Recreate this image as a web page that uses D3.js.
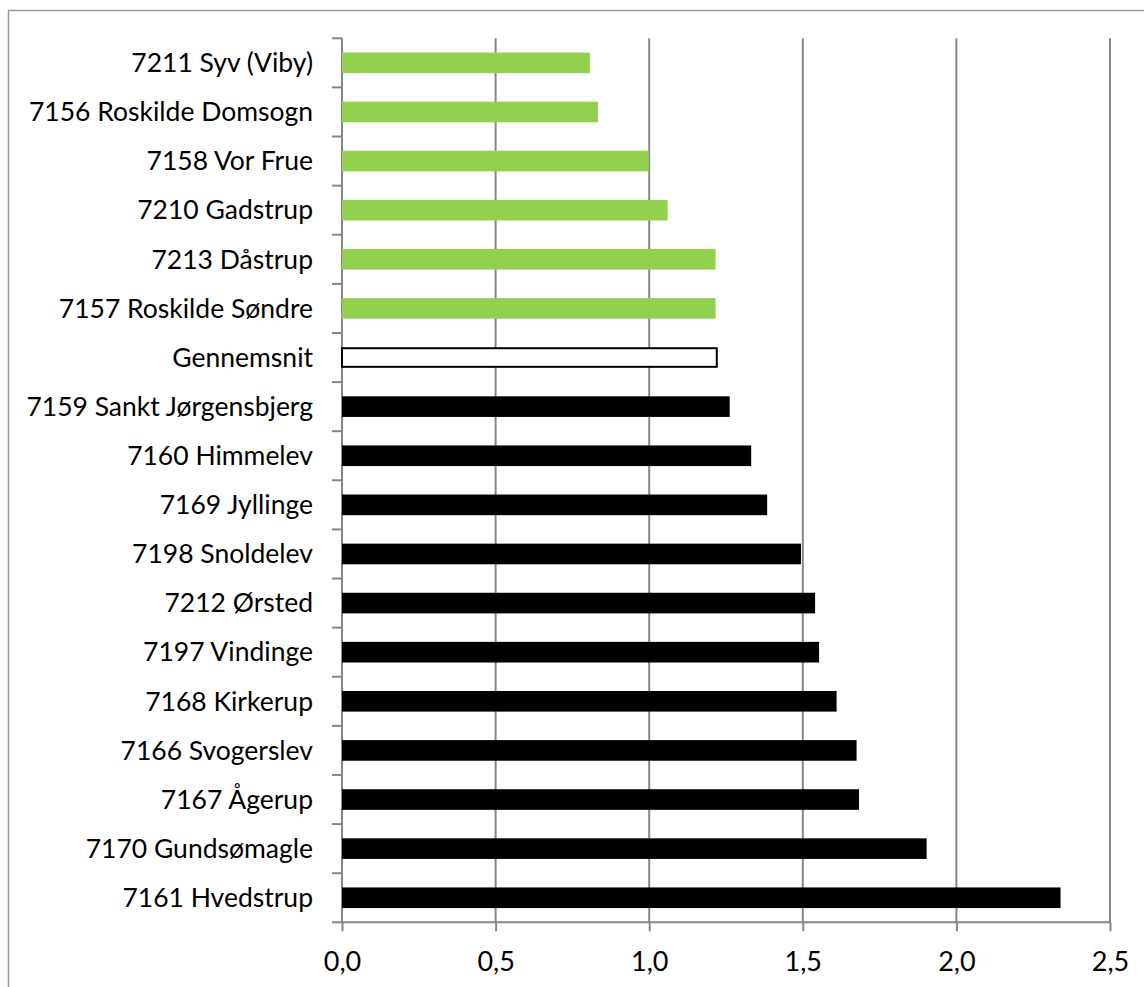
<!DOCTYPE html>
<html lang="da">
<head>
  <meta charset="UTF-8" />
  <script src="https://d3js.org/d3.v7.min.js"></script>
  <style>
    body { margin: 0; background: #fff; }
    text { font-family: Lato, "Open Sans", sans-serif; fill: #000; }
  </style>
</head>
<body>
  <svg id="chart" width="1144" height="987"></svg>
  <script>
    // sogne, fra top til bund
    const parishes = [
      "7211 Syv (Viby)", "7156 Roskilde Domsogn", "7158 Vor Frue", "7210 Gadstrup",
      "7213 Dåstrup", "7157 Roskilde Søndre", "Gennemsnit", "7159 Sankt Jørgensbjerg",
      "7160 Himmelev", "7169 Jyllinge", "7198 Snoldelev", "7212 Ørsted",
      "7197 Vindinge", "7168 Kirkerup", "7166 Svogerslev", "7167 Ågerup",
      "7170 Gundsømagle", "7161 Hvedstrup"
    ];
    const values = [
      0.807, 0.833, 0.998, 1.06, 1.216, 1.216, 1.22, 1.262,
      1.332, 1.384, 1.494, 1.54, 1.553, 1.61, 1.675, 1.683,
      1.903, 2.339
    ];
    const groups = [
      "low", "low", "low", "low", "low", "low", "avg", "high",
      "high", "high", "high", "high", "high", "high", "high", "high",
      "high", "high"
    ];
    const xTicks = [0, 0.5, 1.0, 1.5, 2.0, 2.5];

    const svg = d3.select("#chart");
    const plotLeft = 342, plotRight = 1110, plotTop = 38.3, plotBottom = 922.3;

    // ramme
    svg.append("rect")
      .attr("x", 8.5).attr("y", 10.5)
      .attr("width", 1160).attr("height", 1000)
      .attr("fill", "none").attr("stroke", "#999").attr("stroke-width", 1.5);

    const x = d3.scaleLinear().domain([0, 2.5]).range([plotLeft, plotRight]);
    const y = d3.scaleBand().domain(parishes).range([plotTop, plotBottom]).paddingInner(0.58).paddingOuter(0.29);
    const yTicks = d3.scaleBand().domain(parishes).range([plotTop, plotBottom]);

    // gitterlinjer
    svg.append("g").selectAll("line").data(xTicks.slice(1))
      .join("line")
      .attr("x1", d => x(d)).attr("x2", d => x(d))
      .attr("y1", plotTop).attr("y2", plotBottom)
      .attr("stroke", "#868686").attr("stroke-width", 2);

    // x-akse
    const xAxis = svg.append("g")
      .attr("transform", `translate(0,${plotBottom})`)
      .call(d3.axisBottom(x).tickValues(xTicks).tickSize(9).tickPadding(21)
        .tickFormat(d => d3.format(".1f")(d).replace(".", ",")));
    xAxis.select(".domain").attr("stroke", "#868686").attr("stroke-width", 2)
      .attr("d", `M${plotLeft},0H${plotRight}`);
    xAxis.selectAll(".tick line").attr("stroke", "#868686").attr("stroke-width", 2);
    xAxis.selectAll(".tick text").attr("font-size", 27).attr("font-family", "Lato, sans-serif");

    // y-akse med streger ved kategorigrænser
    const yAxis = svg.append("g").attr("transform", `translate(${plotLeft},0)`);
    yAxis.append("line")
      .attr("x1", 0).attr("x2", 0).attr("y1", plotTop).attr("y2", plotBottom)
      .attr("stroke", "#868686").attr("stroke-width", 2);
    const bounds = parishes.map(p => yTicks(p)).concat([plotBottom]);
    yAxis.selectAll(".bt").data(bounds).join("line").attr("class", "bt")
      .attr("x1", -10).attr("x2", 0)
      .attr("y1", d => d).attr("y2", d => d)
      .attr("stroke", "#868686").attr("stroke-width", 2);
    yAxis.selectAll(".lbl").data(parishes).join("text").attr("class", "lbl")
      .attr("x", -29)
      .attr("y", d => yTicks(d) + yTicks.bandwidth() / 2)
      .attr("dy", "0.35em")
      .attr("text-anchor", "end")
      .attr("font-size", 26.5)
      .text(d => d);

    // søjler
    const fill = { low: "#92d050", avg: "#ffffff", high: "#000000" };
    svg.append("g").selectAll("rect").data(parishes)
      .join("rect")
      .attr("x", x(0))
      .attr("y", (d, i) => groups[i] === "avg" ? y(d) + 1 : y(d))
      .attr("width", (d, i) => x(values[i]) - x(0))
      .attr("height", (d, i) => groups[i] === "avg" ? y.bandwidth() - 2 : y.bandwidth())
      .attr("fill", (d, i) => fill[groups[i]])
      .attr("stroke", (d, i) => groups[i] === "avg" ? "#000" : "none")
      .attr("stroke-width", 2);
  </script>
</body>
</html>
